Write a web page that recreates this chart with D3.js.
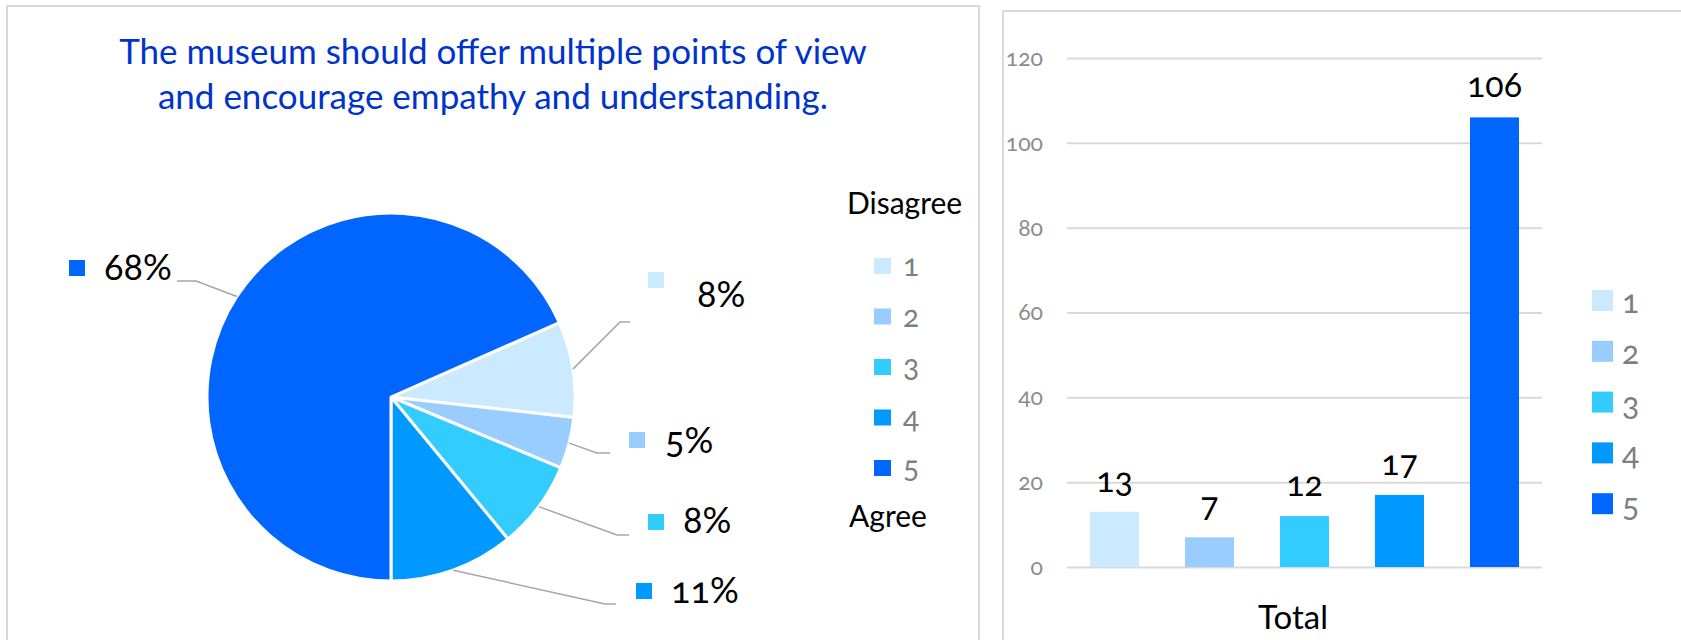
<!DOCTYPE html>
<html>
<head>
<meta charset="utf-8">
<script src="https://cdn.jsdelivr.net/npm/d3@7"></script>
<style>
  body { margin: 0; background: #fff; }
  svg { display: block; font-family: Lato, "Open Sans", sans-serif; font-variant-numeric: oldstyle-nums; }
</style>
</head>
<body>
<div id="chart"></div>
<script>
  // data
  const categories = ['1', '2', '3', '4', '5'];
  const counts = [13, 7, 12, 17, 106];
  const colors = ['#cceaff', '#99ccff', '#33ccff', '#0099ff', '#0066ff'];
  const titleLines = ['The museum should offer multiple points of view', 'and encourage empathy and understanding.'];
  const yTicks = [0, 20, 40, 60, 80, 100, 120];

  const width = 1681;
  const height = 640;

  const svg = d3.select('#chart').append('svg')
    .attr('width', width)
    .attr('height', height);

  // panel frames
  svg.append('rect')
    .attr('x', 7).attr('y', 6).attr('width', 972).attr('height', 700)
    .attr('fill', 'none').attr('stroke', '#d9d9d9').attr('stroke-width', 2);
  svg.append('rect')
    .attr('x', 1003).attr('y', 11).attr('width', 700).attr('height', 700)
    .attr('fill', 'none').attr('stroke', '#d9d9d9').attr('stroke-width', 2);

  // ---------- pie ----------
  const cx = 391;
  const cy = 397;
  const radius = 184;
  const total = d3.sum(counts);

  // slice 4 ends straight down, so first slice starts there minus slices 1-4
  const before5 = d3.sum(counts.slice(0, 4)) / total;
  const start = Math.PI - before5 * 2 * Math.PI;

  const pie = d3.pie().sort(null).startAngle(start).endAngle(start + 2 * Math.PI);
  const arc = d3.arc().innerRadius(0).outerRadius(radius);
  const arcs = pie(counts);

  const pieG = svg.append('g').attr('transform', `translate(${cx},${cy})`);

  pieG.selectAll('path.slice')
    .data(arcs)
    .join('path')
    .attr('class', 'slice')
    .attr('d', arc)
    .attr('fill', (d, i) => colors[i])
    .attr('stroke', '#fff')
    .attr('stroke-width', 3)
    .attr('stroke-linejoin', 'round');

  // label layout (relative to pie centre): elbow, line end, marker, text
  const labelLayout = [
    { elbow: [229, -75], end: 239, box: [257, -125], text: [306, -90] },
    { elbow: [206, 56], end: 219, box: [238, 35], text: [274, 56] },
    { elbow: [226, 138], end: 238, box: [257, 117], text: [292, 136] },
    { elbow: [214, 207], end: 225, box: [245, 186], text: [280, 206] },
    { elbow: [-195, -116], end: -214, box: [-322, -137], text: [-287, -117] },
  ];

  const pct = d3.format('.0%');

  arcs.forEach((d, i) => {
    const mid = (d.startAngle + d.endAngle) / 2;
    const p0 = [Math.sin(mid) * radius, -Math.cos(mid) * radius];
    const l = labelLayout[i];
    pieG.append('polyline')
      .attr('points', [p0, l.elbow, [l.end, l.elbow[1]]].map(p => p.join(',')).join(' '))
      .attr('fill', 'none')
      .attr('stroke', '#a6a6a6')
      .attr('stroke-width', 1.5);
    pieG.append('rect')
      .attr('x', l.box[0]).attr('y', l.box[1])
      .attr('width', 16).attr('height', 16)
      .attr('fill', colors[i]);
    pieG.append('text')
      .attr('x', l.text[0]).attr('y', l.text[1])
      .attr('font-size', 36)
      .attr('fill', '#000')
      .text(pct(counts[i] / total));
  });

  // title
  svg.append('g').selectAll('text')
    .data(titleLines)
    .join('text')
    .attr('x', 493)
    .attr('y', (d, i) => 64 + i * 45)
    .attr('text-anchor', 'middle')
    .attr('font-size', 35)
    .attr('fill', '#0033cc')
    .text(d => d);

  // left legend
  svg.append('text').attr('x', 847).attr('y', 214)
    .attr('font-size', 30).attr('fill', '#000').text('Disagree');
  svg.append('text').attr('x', 849).attr('y', 527)
    .attr('font-size', 30).attr('fill', '#000').text('Agree');

  const legL = svg.append('g').selectAll('g')
    .data(categories)
    .join('g')
    .attr('transform', (d, i) => `translate(874,${258 + i * 50.5})`);
  legL.append('rect').attr('width', 17).attr('height', 16)
    .attr('fill', (d, i) => colors[i]);
  legL.append('text').attr('x', 29).attr('y', 18)
    .attr('font-size', 30).attr('fill', '#7f7f7f').text(d => d);

  // ---------- bars ----------
  const plot = { left: 1067, right: 1542, top: 58, bottom: 567 };

  const x = d3.scaleBand()
    .domain(categories)
    .range([plot.left, plot.right])
    .paddingInner(0.484)
    .paddingOuter(0.242);

  const y = d3.scaleLinear()
    .domain([0, 120])
    .range([plot.bottom, plot.top]);

  const yAxis = svg.append('g')
    .attr('transform', `translate(${plot.left},0)`)
    .call(d3.axisLeft(y)
      .tickValues(yTicks)
      .tickSize(-(plot.right - plot.left))
      .tickPadding(24));
  yAxis.select('.domain').remove();
  yAxis.selectAll('.tick line').attr('stroke', '#d9d9d9').attr('stroke-width', 2);
  yAxis.selectAll('.tick text')
    .attr('font-size', 23)
    .attr('font-family', 'Lato, sans-serif')
    .attr('fill', '#8c8c8c');

  svg.append('g').selectAll('rect')
    .data(counts)
    .join('rect')
    .attr('x', (d, i) => x(categories[i]))
    .attr('y', d => y(d))
    .attr('width', x.bandwidth())
    .attr('height', d => y(0) - y(d))
    .attr('fill', (d, i) => colors[i]);

  svg.append('g').selectAll('text')
    .data(counts)
    .join('text')
    .attr('x', (d, i) => x(categories[i]) + x.bandwidth() / 2)
    .attr('y', d => y(d) - 20)
    .attr('text-anchor', 'middle')
    .attr('font-size', 34)
    .attr('fill', '#000')
    .text(d => d);

  svg.append('text').attr('x', 1293).attr('y', 629)
    .attr('text-anchor', 'middle')
    .attr('font-size', 33).attr('fill', '#000').text('Total');

  // right legend
  const legR = svg.append('g').selectAll('g')
    .data(categories)
    .join('g')
    .attr('transform', (d, i) => `translate(1592,${290 + i * 50.8})`);
  legR.append('rect').attr('width', 21).attr('height', 21)
    .attr('fill', (d, i) => colors[i]);
  legR.append('text').attr('x', 30).attr('y', 23)
    .attr('font-size', 32).attr('fill', '#7f7f7f').text(d => d);
</script>
</body>
</html>
